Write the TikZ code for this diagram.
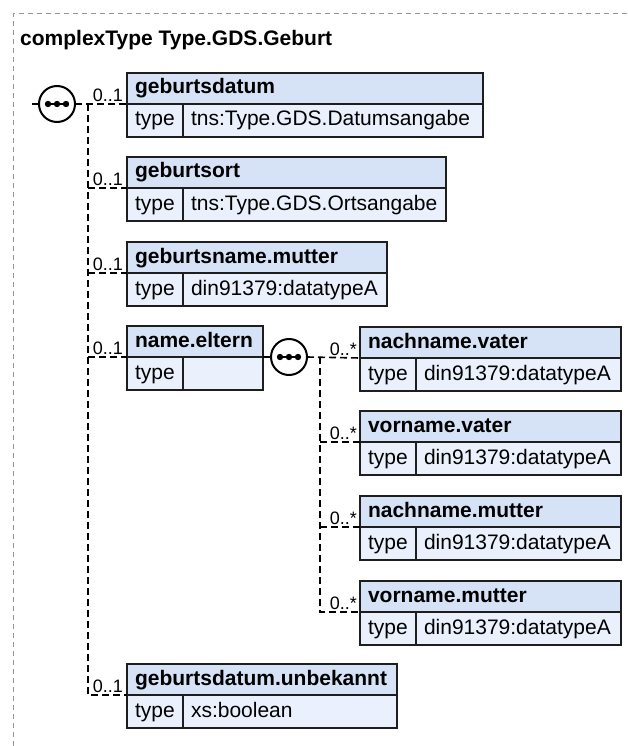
\documentclass[tikz,border=0pt]{standalone}
\usepackage{fontspec}
\setmainfont{Liberation Sans}
\usetikzlibrary{positioning,calc}
\definecolor{headblue}{RGB}{214,227,247}
\definecolor{bodyblue}{RGB}{234,241,252}
\definecolor{boxline}{RGB}{30,30,30}
\definecolor{framegray}{RGB}{150,150,150}

\tikzset{
  cell/.style={draw=boxline, line width=2pt, outer sep=0pt, inner xsep=8pt, inner ysep=0pt,
    align=left, anchor=north west, text height=15pt, text depth=4pt, font=\fontsize{21}{25}\selectfont},
  elhead/.style={cell, fill=headblue, minimum height=31pt, font=\bfseries\fontsize{21}{25}\selectfont},
  eltype/.style={cell, fill=bodyblue, minimum height=33pt, text width=40pt},
  elval/.style={cell, fill=bodyblue, minimum height=33pt},
  seqsym/.style={circle, draw=black, line width=2pt, fill=white, minimum size=36pt, inner sep=0pt, outer sep=0pt},
  conn/.style={draw=black, line width=1.6pt, dash pattern=on 7pt off 4pt},
  mult/.style={inner sep=0pt, font=\fontsize{18}{20}\selectfont},
  frame/.style={draw=framegray, line width=1pt, dash pattern=on 5pt off 4pt},
  title/.style={inner sep=0pt, anchor=base west, font=\bfseries\fontsize{21}{25}\selectfont},
}

\begin{document}
\begin{tikzpicture}[x=1pt,y=-1pt]
  \useasboundingbox (0,0) rectangle (627,746);

  % outer frame and title
  \draw[frame] (13,746) -- (13,14) -- (627,14);
  \node[title] (ttl) at (20,46) {complexType Type.GDS.Geburt};

  % elements of the outer sequence
  \node[elhead, text width=340pt] (gdat) at (127,73) {geburtsdatum};
  \node[eltype] (gdatT) at (gdat.south west) {type};
  \node[elval, text width=284pt] (gdatV) at (gdatT.north east) {tns:Type.GDS.Datumsangabe};

  \node[elhead, text width=303pt] (gort) at (127,157) {geburtsort};
  \node[eltype] (gortT) at (gort.south west) {type};
  \node[elval, text width=247pt] (gortV) at (gortT.north east) {tns:Type.GDS.Ortsangabe};

  \node[elhead, text width=244pt] (gnam) at (127,242) {geburtsname.mutter};
  \node[eltype] (gnamT) at (gnam.south west) {type};
  \node[elval, text width=188pt] (gnamV) at (gnamT.north east) {din91379:datatypeA};

  \node[elhead, text width=120pt] (nelt) at (127,326) {name.eltern};
  \node[eltype] (neltT) at (nelt.south west) {type};
  \node[elval, text width=64pt] (neltV) at (neltT.north east) {};

  \node[elhead, text width=254pt] (gunb) at (127,664) {geburtsdatum.unbekannt};
  \node[eltype] (gunbT) at (gunb.south west) {type};
  \node[elval, text width=198pt] (gunbV) at (gunbT.north east) {xs:boolean};

  % elements of the inner sequence (name.eltern)
  \node[elhead, text width=245pt] (nvat) at (360,327) {nachname.vater};
  \node[eltype] (nvatT) at (nvat.south west) {type};
  \node[elval, text width=189pt] (nvatV) at (nvatT.north east) {din91379:datatypeA};

  \node[elhead, text width=245pt] (vvat) at (360,411) {vorname.vater};
  \node[eltype] (vvatT) at (vvat.south west) {type};
  \node[elval, text width=189pt] (vvatV) at (vvatT.north east) {din91379:datatypeA};

  \node[elhead, text width=245pt] (nmut) at (360,496) {nachname.mutter};
  \node[eltype] (nmutT) at (nmut.south west) {type};
  \node[elval, text width=189pt] (nmutV) at (nmutT.north east) {din91379:datatypeA};

  \node[elhead, text width=245pt] (vmut) at (360,581) {vorname.mutter};
  \node[eltype] (vmutT) at (vmut.south west) {type};
  \node[elval, text width=189pt] (vmutV) at (vmutT.north east) {din91379:datatypeA};

  % sequence symbols
  \node[seqsym, left=52pt of gdat.south west] (seq1) {};
  \node[seqsym, right=8pt of nelt.south east] (seq2) {};
  \foreach \s in {seq1,seq2} {
    \draw[line width=2pt] ($(\s)+(-10,0)$) -- ($(\s)+(10,0)$);
    \foreach \d in {-9,0,9}
      \fill ($(\s)+(\d,0)$) circle (3.2pt);
  }

  % connectors, outer sequence
  \draw[conn] (seq1.west) -- ++(-9pt,0);
  \draw[conn] (seq1.east) -- (gdat.south west);
  \coordinate (bus1) at ($(seq1.east)+(13pt,0)$);
  \draw[conn] (bus1) |- (gunb.south west);
  \draw[conn] (bus1 |- gort.south west) -- (gort.south west);
  \draw[conn] (bus1 |- gnam.south west) -- (gnam.south west);
  \draw[conn] (bus1 |- nelt.south west) -- (nelt.south west);

  % connectors, inner sequence
  \draw[conn] (nelt.south east) -- (seq2.west);
  \draw[conn] (seq2.east) -- (nvat.south west);
  \coordinate (bus2) at ($(seq2.east)+(13pt,0)$);
  \draw[conn] (bus2) |- (vmut.south west);
  \draw[conn] (bus2 |- vvat.south west) -- (vvat.south west);
  \draw[conn] (bus2 |- nmut.south west) -- (nmut.south west);

  % multiplicities
  \node[mult, above left=2pt and 4pt of gdat.south west] (mgdat) {0..1};
  \node[mult, above left=2pt and 4pt of gort.south west] (mgort) {0..1};
  \node[mult, above left=2pt and 4pt of gnam.south west] (mgnam) {0..1};
  \node[mult, above left=2pt and 4pt of nelt.south west] (mnelt) {0..1};
  \node[mult, above left=2pt and 4pt of gunb.south west] (mgunb) {0..1};
  \node[mult, above left=2pt and 3pt of nvat.south west] (mnvat) {0..*};
  \node[mult, above left=2pt and 3pt of vvat.south west] (mvvat) {0..*};
  \node[mult, above left=2pt and 3pt of nmut.south west] (mnmut) {0..*};
  \node[mult, above left=2pt and 3pt of vmut.south west] (mvmut) {0..*};
\end{tikzpicture}
\end{document}
